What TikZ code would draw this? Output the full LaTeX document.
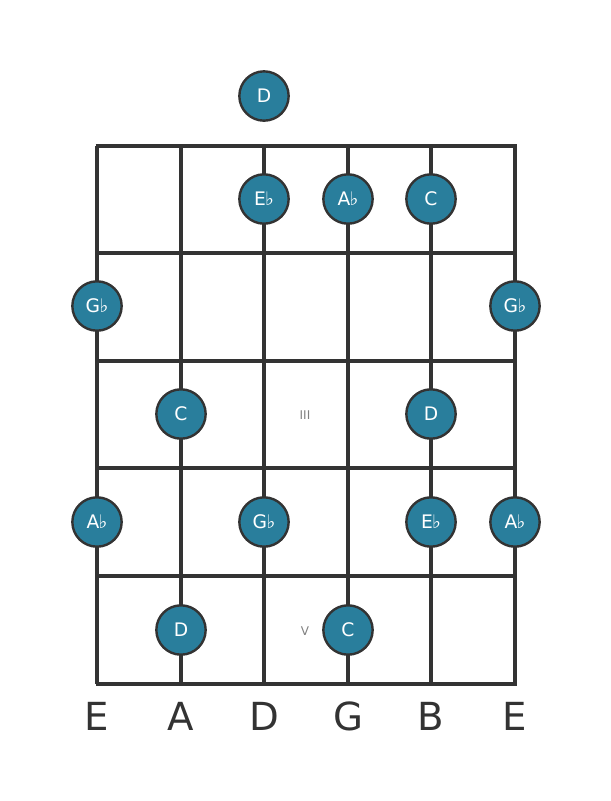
\documentclass[tikz,border=0pt]{standalone}
\usepackage{fontspec}
\setmainfont{DejaVu Sans}
\definecolor{notefill}{RGB}{41,126,156}
\definecolor{linegray}{RGB}{51,51,51}
\tikzset{every picture/.style={line width=0.75pt}}
\tikzset{
  note/.style={circle,draw=linegray,line width=1.8pt,fill=notefill,minimum size=37pt,inner sep=0pt,text=white,font=\fontsize{14}{14}\selectfont},
  fret/.style={draw=linegray,line width=3.4pt},
  gstring/.style={draw=linegray,line width=2.3pt},
  strname/.style={text=linegray,font=\fontsize{29}{29}\selectfont},
  marker/.style={text=gray,font=\fontsize{9}{9}\selectfont}
}
\newcommand{\fl}[1]{#1{\fontsize{14}{14}\selectfont\kern-0.5pt♭}}

\begin{document}
\begin{tikzpicture}[x=0.75pt,y=0.75pt,yscale=-1,xscale=1]
    \useasboundingbox (0,0) rectangle (611,801);

    %Strings
    \draw [gstring] (97,146) -- (97,684) ;
    \draw [gstring] (181,146) -- (181,684) ;
    \draw [gstring] (264,146) -- (264,684) ;
    \draw [gstring] (348,146) -- (348,684) ;
    \draw [gstring] (431,146) -- (431,684) ;
    \draw [gstring] (515,146) -- (515,684) ;
    %Frets
    \draw [fret] (95.5,146) -- (516.5,146) ;
    \draw [fret] (95.5,253) -- (516.5,253) ;
    \draw [fret] (95.5,361) -- (516.5,361) ;
    \draw [fret] (95.5,468) -- (516.5,468) ;
    \draw [fret] (95.5,576) -- (516.5,576) ;
    \draw [fret] (95.5,684) -- (516.5,684) ;

    % Fret markers
    \node [marker] (m3) at (305,415) {III};
    \node [marker] (m5) at (305,631) {V};

    % Open string
    \node [note] (o3) at (264,96) {D};
    % Fret 1
    \node [note] (n13) at (264,199) {\fl{E}};
    \node [note] (n14) at (348,199) {\fl{A}};
    \node [note] (n15) at (431,199) {C};
    % Fret 2
    \node [note] (n21) at (97,306) {\fl{G}};
    \node [note] (n26) at (515,306) {\fl{G}};
    % Fret 3
    \node [note] (n32) at (181,414) {C};
    \node [note] (n35) at (431,414) {D};
    % Fret 4
    \node [note] (n41) at (97,522) {\fl{A}};
    \node [note] (n43) at (264,522) {\fl{G}};
    \node [note] (n45) at (431,522) {\fl{E}};
    \node [note] (n46) at (515,522) {\fl{A}};
    % Fret 5
    \node [note] (n52) at (181,630) {D};
    \node [note] (n54) at (348,630) {C};

    % String names
    \node [strname] (s1) at (97,716) {E};
    \node [strname] (s2) at (181,716) {A};
    \node [strname] (s3) at (264,716) {D};
    \node [strname] (s4) at (348,716) {G};
    \node [strname] (s5) at (431,716) {B};
    \node [strname] (s6) at (515,716) {E};

\end{tikzpicture}
\end{document}
